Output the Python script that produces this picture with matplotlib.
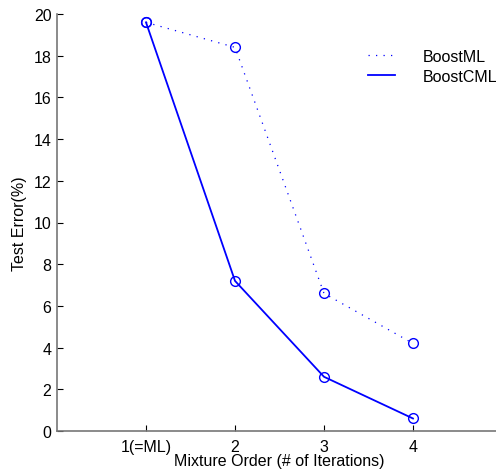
import matplotlib
matplotlib.use('Agg')
from matplotlib import pyplot as plt

plt.rcParams['font.family'] = ['Liberation Sans', 'DejaVu Sans']
plt.rcParams['font.size'] = 11.5

order = [1, 2, 3, 4]
order_labels = ['1(=ML)', '2', '3', '4']
boost_ml = [19.6, 18.4, 6.6, 4.2]
boost_cml = [19.6, 7.2, 2.6, 0.6]

W, H = 496, 477
fig = plt.figure(figsize=(W / 100, H / 100), dpi=100)
ax = fig.add_axes([57 / W, (H - 432) / H, 445 / W, 417 / H])

ax.plot(order, boost_ml, color='blue', linestyle=(0, (1, 5)), linewidth=0.9,
        marker='o', markersize=7, markerfacecolor='none', markeredgewidth=1.0,
        label='BoostML')
ax.plot(order, boost_cml, color='blue', linestyle='-', linewidth=1.3,
        marker='o', markersize=7, markerfacecolor='none', markeredgewidth=1.0,
        label='BoostCML')

ax.set_xlim(0, 5)
ax.set_ylim(0, 20)
ax.set_xticks(order)
ax.set_xticklabels(order_labels)
ax.set_yticks(range(0, 21, 2))
ax.tick_params(direction='in', length=4, width=0.8, pad=4)
ax.tick_params(axis='x', pad=6)
for s in ['top', 'right']:
    ax.spines[s].set_visible(False)
for s in ['left', 'bottom']:
    ax.spines[s].set_color('#777777')
    ax.spines[s].set_linewidth(1.2)

ax.set_xlabel('Mixture Order (# of Iterations)', labelpad=-1)
ax.set_ylabel('Test Error(%)', labelpad=5)

leg = ax.legend(loc='upper left', bbox_to_anchor=(368 / W, 1 - 50 / H),
                bbox_transform=fig.transFigure, frameon=False,
                handlelength=1.7, handletextpad=1.7, labelspacing=0.3,
                borderpad=0, borderaxespad=0)
for h in leg.legend_handles:
    h.set_marker('')

fig.savefig('out.png', dpi=100)
